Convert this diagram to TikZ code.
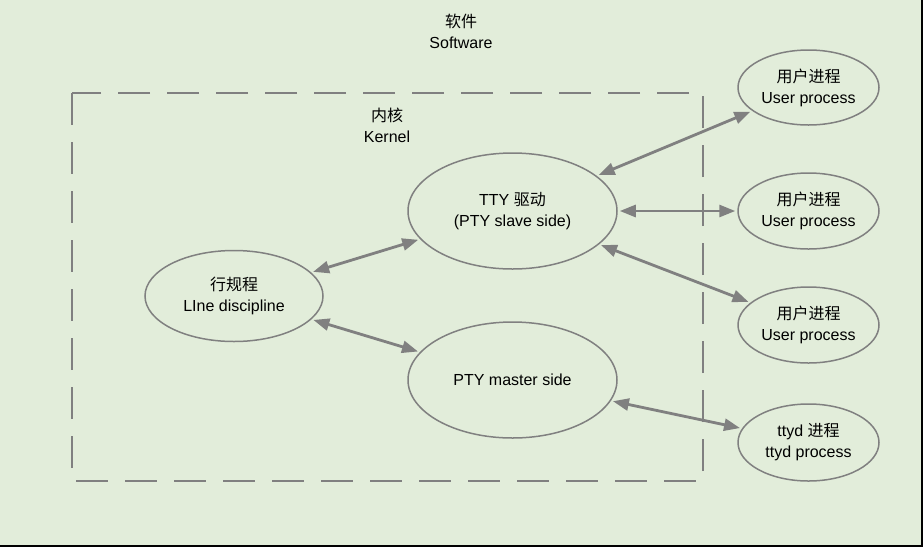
\documentclass[tikz,border=0pt]{standalone}
\usepackage{fontspec}
\setmainfont{Liberation Sans}
\newfontfamily\cjk{Noto Sans CJK SC}
\usetikzlibrary{shapes.geometric,arrows.meta}
\definecolor{bg}{RGB}{226,237,218}
\definecolor{ln}{RGB}{128,128,128}
\tikzset{
  proc/.style={ellipse, draw=ln, line width=1.5pt, inner sep=0pt, align=center,
    font=\fontsize{16}{21}\selectfont},
  link/.style={draw=ln, line width=2.8pt,
    {Triangle[length=16pt,width=12pt]}-{Triangle[length=16pt,width=12pt]},
    shorten <=2pt, shorten >=2pt},
  lbl/.style={align=center, font=\fontsize{16}{21}\selectfont},
}
\begin{document}
\begin{tikzpicture}[x=1pt,y=-1pt]
\useasboundingbox (0,0) rectangle (923,547);
\fill[bg] (0,0) rectangle (921,545);
\draw[black, line width=2pt] (922,0) -- (922,546) -- (0,546);
\draw[ln, line width=2pt, dash pattern=on 32pt off 17pt] (72,93) rectangle (703,481);

\node[lbl] (sw) at (461,31) {{\cjk 软件}\\Software};
\node[lbl] (kn) at (387,125) {{\cjk 内核}\\Kernel};

\node[proc, minimum width=178pt, minimum height=91pt] (ld) at (234,296) {{\cjk 行规程}\\LIne discipline};
\node[proc, minimum width=209pt, minimum height=116pt] (tty) at (512.5,211) {TTY {\cjk 驱动}\\(PTY slave side)};
\node[proc, minimum width=209pt, minimum height=116pt] (pm) at (512.5,380) {PTY master side};
\node[proc, minimum width=141pt, minimum height=75pt] (u1) at (808.5,87.5) {{\cjk 用户进程}\\User process};
\node[proc, minimum width=141pt, minimum height=76pt] (u2) at (808.5,211) {{\cjk 用户进程}\\User process};
\node[proc, minimum width=141pt, minimum height=76pt] (u3) at (808.5,325) {{\cjk 用户进程}\\User process};
\node[proc, minimum width=141pt, minimum height=77pt] (td) at (808.5,442.5) {ttyd {\cjk 进程}\\ttyd process};

\draw[link] (ld) -- (tty);
\draw[link] (ld) -- (pm);
\draw[link] (tty) -- (u1);
\draw[link] (tty) -- (u2);
\draw[link] (tty) -- (u3);
\draw[link] (pm) -- (td);
\end{tikzpicture}
\end{document}
